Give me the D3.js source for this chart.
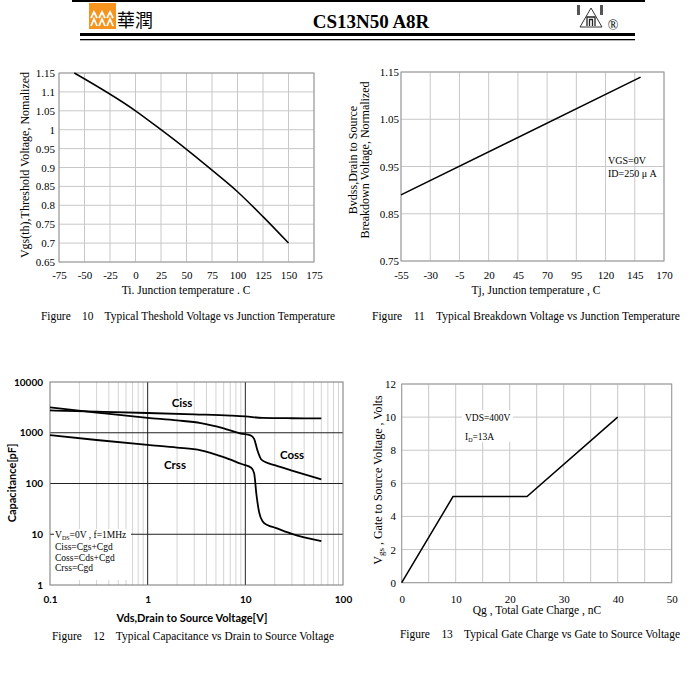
<!DOCTYPE html>
<html><head><meta charset="utf-8">
<script src="https://cdn.jsdelivr.net/npm/d3@7"></script>
<style>
html,body{margin:0;padding:0;background:#fff;}
svg text{font-family:"Liberation Serif","Times New Roman",serif;fill:#000;}
</style></head>
<body><svg id="c" width="700" height="684"></svg>
<script>
// ---------- DATA ----------
const partTitle = "CS13N50 A8R";
// Fig 10
const f10Temp = [-60, 0, 25, 50, 75, 100, 125, 150];
const f10Vth  = [1.15, 1.05, 1.0, 0.948, 0.893, 0.836, 0.77, 0.70];
const f10XTicks = [-75,-50,-25,0,25,50,75,100,125,150,175];
const f10YTicks = [0.65,0.7,0.75,0.8,0.85,0.9,0.95,1,1.05,1.1,1.15];
// Fig 11
const f11Temp = [-55, 150];
const f11Bv   = [0.890, 1.139];
const f11XTicks = [-55,-30,-5,20,45,70,95,120,145,170];
const f11YTicks = [0.75,0.85,0.95,1.05,1.15];
// Fig 12
const f12CissV = [0.1, 0.3, 1, 3, 7, 10, 15, 30, 60];
const f12Ciss  = [2750, 2600, 2450, 2300, 2180, 2100, 1960, 1930, 1920];
const f12CossV = [0.1, 0.3, 1, 2, 3.5, 6, 9, 11.3, 12.3, 13.3, 14.5, 16, 20, 30, 60];
const f12Coss  = [3150, 2500, 1970, 1750, 1550, 1220, 960, 890, 760, 450, 300, 265, 230, 180, 120];
const f12CrssV = [0.1, 0.3, 1, 2, 3.5, 6, 9, 11.5, 12.3, 13, 13.8, 15, 17, 20, 30, 60];
const f12Crss  = [900, 720, 575, 510, 450, 330, 245, 205, 160, 60, 28, 18, 15, 13.5, 10.2, 7.3];
const f12XTicks = [0.1, 1, 10, 100];
const f12YTicks = [1, 10, 100, 1000, 10000];
const f12Legend = ["Ciss=Cgs+Cgd", "Coss=Cds+Cgd", "Crss=Cgd"];
// Fig 13
const f13Qg  = [0, 9.5, 23.2, 40];
const f13Vgs = [0, 5.2, 5.2, 10];
const f13XTicks = [0,10,20,30,40,50];
const f13YTicks = [0,2,4,6,8,10,12];
const captions = [
  "Figure    10    Typical Theshold Voltage vs Junction Temperature",
  "Figure    11    Typical Breakdown Voltage vs Junction Temperature",
  "Figure    12    Typical Capacitance vs Drain to Source Voltage",
  "Figure    13    Typical Gate Charge vs Gate to Source Voltage"
];

// ---------- DRAW ----------
const svg = d3.select("#c");
const GRID = "#c8c8c8", BORDER = "#9a9a9a";

// Header
svg.append("rect").attr("x",72).attr("y",0).attr("width",573).attr("height",2).attr("fill","#000");
svg.append("rect").attr("x",80).attr("y",33).attr("width",555).attr("height",3).attr("fill","#000");
svg.append("rect").attr("x",80).attr("y",39).attr("width",555).attr("height",1.3).attr("fill","#000");
const logo = svg.append("g");
logo.append("rect").attr("x",89).attr("y",3).attr("width",27).attr("height",26).attr("fill","#f7941d");
[[91,97],[99,105],[107,113]].forEach(([a,b])=>{
  const m=(a+b)/2;
  logo.append("path").attr("d",`M${a},${18} L${m},${12} L${b},${18} M${a},${26} L${m},${19} L${b},${26}`)
    .attr("stroke","#fff").attr("stroke-width",1.8).attr("fill","none");
});
svg.append("text").attr("x",117).attr("y",27).attr("font-size",18)
  .style("font-family","'Noto Sans CJK TC','Noto Sans CJK SC',sans-serif").text("華潤");
svg.append("text").attr("x",371).attr("y",28).attr("text-anchor","middle")
  .attr("font-size",19).attr("font-weight","bold").text(partTitle);
const rl = svg.append("g");
rl.append("path").attr("d","M580,27 L591,8 L602,27 Z").attr("fill","none").attr("stroke","#333").attr("stroke-width",1);
rl.append("path").attr("d","M587,26 L587,17 L595,17 L595,26 M589.5,26 L589.5,19.5 L592.5,19.5 L592.5,26").attr("fill","none").attr("stroke","#222").attr("stroke-width",1.3);
rl.append("rect").attr("x",577).attr("y",5).attr("width",3).attr("height",10).attr("fill","#555");
rl.append("rect").attr("x",600).attr("y",5).attr("width",3).attr("height",10).attr("fill","#555");
svg.append("text").attr("x",613).attr("y",30).attr("text-anchor","middle").attr("font-size",14).text("®");

function fmt(v){ return String(+v.toFixed(2)); }

// ---- Fig 10 ----
(function(){
  const x = d3.scaleLinear().domain([-75,175]).range([59,314]);
  const y = d3.scaleLinear().domain([0.65,1.15]).range([262,73]);
  const g = svg.append("g");
  g.selectAll(".vx").data(f10XTicks).join("line").attr("x1",d=>x(d)).attr("x2",d=>x(d)).attr("y1",73).attr("y2",262).attr("stroke",GRID);
  g.selectAll(".hy").data(f10YTicks).join("line").attr("x1",59).attr("x2",314).attr("y1",d=>y(d)).attr("y2",d=>y(d)).attr("stroke",GRID);
  g.append("rect").attr("x",59).attr("y",73).attr("width",255).attr("height",189).attr("fill","none").attr("stroke",BORDER);
  g.append("g").attr("transform","translate(0,266)").call(d3.axisBottom(x).tickValues(f10XTicks).tickSize(0).tickFormat(fmt))
    .call(a=>{a.select(".domain").remove(); a.selectAll("text").attr("font-size",11).attr("dy","0.9em").style("font-family","Liberation Serif");});
  g.append("g").attr("transform","translate(55,0)").call(d3.axisLeft(y).tickValues(f10YTicks).tickSize(0).tickPadding(0).tickFormat(fmt))
    .call(a=>{a.select(".domain").remove(); a.selectAll("text").attr("font-size",11).style("font-family","Liberation Serif");});
  g.append("path").datum(f10Temp.map((t,i)=>[t,f10Vth[i]]))
    .attr("d",d3.line().x(d=>x(d[0])).y(d=>y(d[1])).curve(d3.curveMonotoneX))
    .attr("fill","none").attr("stroke","#000").attr("stroke-width",1.5);
  g.append("text").attr("x",186).attr("y",294).attr("text-anchor","middle").attr("font-size",11.5).text("Ti. Junction temperature . C");
  g.append("text").attr("transform","translate(29,165) rotate(-90)").attr("text-anchor","middle").attr("font-size",12).text("Vgs(th),Threshold Voltage, Nomalized");
})();

// ---- Fig 11 ----
(function(){
  const x = d3.scaleLinear().domain([-55,170]).range([401,664]);
  const y = d3.scaleLinear().domain([0.75,1.15]).range([261,72]);
  const g = svg.append("g");
  g.selectAll(".vx").data(f11XTicks).join("line").attr("x1",d=>x(d)).attr("x2",d=>x(d)).attr("y1",72).attr("y2",261).attr("stroke",GRID);
  g.selectAll(".hy").data(f11YTicks).join("line").attr("x1",401).attr("x2",664).attr("y1",d=>y(d)).attr("y2",d=>y(d)).attr("stroke",GRID);
  g.append("rect").attr("x",401).attr("y",72).attr("width",263).attr("height",189).attr("fill","none").attr("stroke",BORDER);
  g.append("g").attr("transform","translate(0,266)").call(d3.axisBottom(x).tickValues(f11XTicks).tickSize(0).tickFormat(fmt))
    .call(a=>{a.select(".domain").remove(); a.selectAll("text").attr("font-size",11).attr("dy","0.9em").style("font-family","Liberation Serif");});
  g.append("g").attr("transform","translate(399,0)").call(d3.axisLeft(y).tickValues(f11YTicks).tickSize(0).tickPadding(0).tickFormat(fmt))
    .call(a=>{a.select(".domain").remove(); a.selectAll("text").attr("font-size",11).style("font-family","Liberation Serif");});
  g.append("path").datum(f11Temp.map((t,i)=>[t,f11Bv[i]]))
    .attr("d",d3.line().x(d=>x(d[0])).y(d=>y(d[1])))
    .attr("fill","none").attr("stroke","#000").attr("stroke-width",1.5);
  g.append("text").attr("x",608).attr("y",164).attr("font-size",10).text("VGS=0V");
  g.append("text").attr("x",608).attr("y",177).attr("font-size",10).text("ID=250 μ A");
  g.append("text").attr("x",536).attr("y",294).attr("text-anchor","middle").attr("font-size",11.5).text("Tj, Junction temperature , C");
  g.append("text").attr("transform","translate(357,160) rotate(-90)").attr("text-anchor","middle").attr("font-size",12).text("Bvdss,Drain to Source");
  g.append("text").attr("transform","translate(369,160) rotate(-90)").attr("text-anchor","middle").attr("font-size",12).text("Breakdown Voltage, Normalized");
})();

// ---- Fig 12 ----
(function(){
  const x = d3.scaleLog().domain([0.1,100]).range([50,343]);
  const y = d3.scaleLog().domain([1,10000]).range([585,382]);
  const g = svg.append("g");
  const minors = [];
  [0.1,1,10].forEach(dec=>{ for(let k=2;k<=9;k++) minors.push(dec*k); });
  g.selectAll(".mv").data(minors).join("line").attr("x1",d=>x(d)).attr("x2",d=>x(d)).attr("y1",382).attr("y2",585).attr("stroke","#d4d4d4");
  g.selectAll(".Mv").data([1,10]).join("line").attr("x1",d=>x(d)).attr("x2",d=>x(d)).attr("y1",382).attr("y2",585).attr("stroke","#222");
  g.selectAll(".Mh").data([10,100,1000]).join("line").attr("x1",50).attr("x2",343).attr("y1",d=>y(d)).attr("y2",d=>y(d)).attr("stroke","#222");
  g.append("rect").attr("x",50).attr("y",382).attr("width",293).attr("height",203).attr("fill","none").attr("stroke","#777");
  // legend box
  g.append("rect").attr("x",54).attr("y",529).attr("width",77).attr("height",51).attr("fill","#fff");
  g.append("text").attr("x",55).attr("y",538).attr("font-size",9.5).html('V<tspan font-size="6" dy="2">DS</tspan><tspan dy="-2">=0V , f=1MHz</tspan>');
  f12Legend.forEach((t,i)=>g.append("text").attr("x",55).attr("y",550+i*10.5).attr("font-size",9.5).text(t));
  const line = d3.line().x(d=>x(d[0])).y(d=>y(d[1])).curve(d3.curveMonotoneX);
  [[f12CissV,f12Ciss],[f12CossV,f12Coss],[f12CrssV,f12Crss]].forEach(([vx,vy])=>{
    g.append("path").datum(vx.map((v,i)=>[v,vy[i]])).attr("d",line).attr("fill","none").attr("stroke","#000").attr("stroke-width",1.8);
  });
  const bf = "Lato,'Open Sans',sans-serif";
  g.append("text").attr("x",182).attr("y",407).attr("text-anchor","middle").attr("font-size",11.5).attr("font-weight","bold").style("font-family",bf).text("Ciss");
  g.append("text").attr("x",292).attr("y",459).attr("text-anchor","middle").attr("font-size",11.5).attr("font-weight","bold").style("font-family",bf).text("Coss");
  g.append("text").attr("x",175).attr("y",469).attr("text-anchor","middle").attr("font-size",11.5).attr("font-weight","bold").style("font-family",bf).text("Crss");
  g.append("g").attr("transform","translate(0,592)").call(d3.axisBottom(x).tickValues(f12XTicks).tickSize(0).tickFormat(d=>String(d)))
    .call(a=>{a.select(".domain").remove(); a.selectAll("text").attr("font-size",10).attr("font-weight","bold").attr("dy","0.75em").style("font-family",bf);});
  g.append("g").attr("transform","translate(43,0)").call(d3.axisLeft(y).tickValues(f12YTicks).tickSize(0).tickPadding(0).tickFormat(d=>String(d)))
    .call(a=>{a.select(".domain").remove(); a.selectAll("text").attr("font-size",10).attr("font-weight","bold").style("font-family",bf);});
  g.append("text").attr("x",192).attr("y",622).attr("text-anchor","middle").attr("font-size",11).attr("font-weight","bold").style("font-family",bf).text("Vds,Drain to Source Voltage[V]");
  g.append("text").attr("transform","translate(16,483) rotate(-90)").attr("text-anchor","middle").attr("font-size",11).attr("font-weight","bold").style("font-family",bf).text("Capacitance[pF]");
})();

// ---- Fig 13 ----
(function(){
  const x = d3.scaleLinear().domain([0,50]).range([401.7,671.7]);
  const y = d3.scaleLinear().domain([0,12]).range([582.7,384]);
  const g = svg.append("g");
  g.selectAll(".vx").data(d3.range(0,51,5)).join("line").attr("x1",d=>x(d)).attr("x2",d=>x(d)).attr("y1",384).attr("y2",582.7).attr("stroke",GRID);
  g.selectAll(".hy").data(f13YTicks).join("line").attr("x1",401.7).attr("x2",671.7).attr("y1",d=>y(d)).attr("y2",d=>y(d)).attr("stroke",GRID);
  g.append("rect").attr("x",401.7).attr("y",384).attr("width",270).attr("height",198.7).attr("fill","none").attr("stroke",BORDER);
  g.append("rect").attr("x",462).attr("y",410).attr("width",51).attr("height",32).attr("fill","#fff");
  g.append("text").attr("x",465).attr("y",421).attr("font-size",9.5).text("VDS=400V");
  g.append("text").attr("x",465).attr("y",440).attr("font-size",9.5).html('I<tspan font-size="6" dy="2">D</tspan><tspan dy="-2">=13A</tspan>');
  g.append("path").datum(f13Qg.map((q,i)=>[q,f13Vgs[i]]))
    .attr("d",d3.line().x(d=>x(d[0])).y(d=>y(d[1])))
    .attr("fill","none").attr("stroke","#000").attr("stroke-width",1.5);
  g.append("g").attr("transform","translate(0,592)").call(d3.axisBottom(x).tickValues(f13XTicks).tickSize(0).tickFormat(d=>String(d)))
    .call(a=>{a.select(".domain").remove(); a.selectAll("text").attr("font-size",11).attr("dy","0.75em").style("font-family","Liberation Serif");});
  g.append("g").attr("transform","translate(396,0)").call(d3.axisLeft(y).tickValues(f13YTicks).tickSize(0).tickPadding(0).tickFormat(d=>String(d)))
    .call(a=>{a.select(".domain").remove(); a.selectAll("text").attr("font-size",11).style("font-family","Liberation Serif");});
  g.append("text").attr("x",537).attr("y",614).attr("text-anchor","middle").attr("font-size",11.5).text("Qg , Total Gate Charge , nC");
  g.append("text").attr("transform","translate(382,480) rotate(-90)").attr("text-anchor","middle").attr("font-size",12)
    .html('V<tspan font-size="9" dy="2">gs</tspan><tspan dy="-2"> , Gate to Source Voltage , Volts</tspan>');
})();

// Captions
const capPos = [[41,320,294],[372,320,308],[52,640,282],[400,638,280]];
captions.forEach((t,i)=>{
  const [cx,cy,w]=capPos[i];
  svg.append("text").attr("x",cx).attr("y",cy).attr("font-size",12).attr("xml:space","preserve").style("white-space","pre")
    .attr("textLength",w).attr("lengthAdjust","spacingAndGlyphs").text(t);
});
</script></body></html>
